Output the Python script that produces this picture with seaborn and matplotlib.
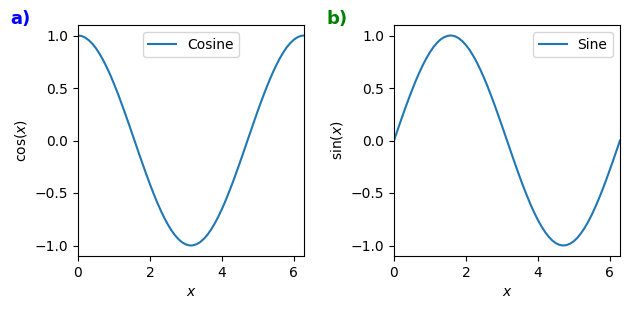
import matplotlib
matplotlib.use("Agg")
import matplotlib.pyplot as plt
import seaborn as sns
import pandas as pd

x_vals = [0.0, 0.1, 0.2, 0.3, 0.4, 0.5, 0.6, 0.7, 0.8, 0.9, 1.0, 1.1, 1.2, 1.3, 1.4, 1.5,
          1.571, 1.6, 1.7, 1.8, 1.9, 2.0, 2.1, 2.2, 2.3, 2.4, 2.5, 2.6, 2.7, 2.8, 2.9,
          3.0, 3.1, 3.142, 3.2, 3.3, 3.4, 3.5, 3.6, 3.7, 3.8, 3.9, 4.0, 4.1, 4.2, 4.3,
          4.4, 4.5, 4.6, 4.7, 4.712, 4.8, 4.9, 5.0, 5.1, 5.2, 5.3, 5.4, 5.5, 5.6, 5.7,
          5.8, 5.9, 6.0, 6.1, 6.2, 6.283]
cos_vals = [1.000, 0.995, 0.980, 0.955, 0.921, 0.878, 0.825, 0.765, 0.697, 0.622, 0.540,
            0.454, 0.362, 0.267, 0.170, 0.071, 0.000, -0.029, -0.129, -0.227, -0.323,
            -0.416, -0.505, -0.589, -0.666, -0.737, -0.801, -0.857, -0.904, -0.942,
            -0.971, -0.990, -0.999, -1.000, -0.998, -0.987, -0.967, -0.936, -0.897,
            -0.848, -0.791, -0.726, -0.654, -0.575, -0.490, -0.401, -0.307, -0.211,
            -0.112, -0.012, 0.000, 0.087, 0.187, 0.284, 0.378, 0.469, 0.554, 0.635,
            0.709, 0.776, 0.835, 0.886, 0.927, 0.960, 0.983, 0.997, 1.000]
sin_vals = [0.000, 0.100, 0.199, 0.296, 0.389, 0.479, 0.565, 0.644, 0.717, 0.783, 0.841,
            0.891, 0.932, 0.964, 0.985, 0.997, 1.000, 1.000, 0.992, 0.974, 0.946,
            0.909, 0.863, 0.808, 0.746, 0.675, 0.598, 0.516, 0.427, 0.335, 0.239,
            0.141, 0.042, 0.000, -0.058, -0.158, -0.256, -0.351, -0.443, -0.530,
            -0.612, -0.688, -0.757, -0.818, -0.872, -0.916, -0.952, -0.978, -0.994,
            -1.000, -1.000, -0.996, -0.982, -0.959, -0.926, -0.883, -0.832, -0.773,
            -0.706, -0.631, -0.551, -0.465, -0.374, -0.279, -0.182, -0.083, 0.000]

df = pd.DataFrame({"x": x_vals, "cos": cos_vals, "sin": sin_vals})

W, H = 630, 309
fig = plt.figure(figsize=(6.3, 3.09), dpi=100)
ax0 = fig.add_axes([78 / W, (H - 256) / H, 226 / W, 231 / H])
ax1 = fig.add_axes([394 / W, (H - 256) / H, 226 / W, 231 / H])
axes = [ax0, ax1]

sns.lineplot(data=df, x="x", y="cos", ax=ax0, label="Cosine", color="#1f77b4")
ax0.set_xlabel("$x$")
ax0.set_ylabel(r"$\cos(x)$")
ax0.legend(loc="upper center")

sns.lineplot(data=df, x="x", y="sin", ax=ax1, label="Sine", color="#1f77b4")
ax1.set_xlabel("$x$")
ax1.set_ylabel(r"$\sin(x)$")
ax1.legend(loc="upper right")

for ax in axes:
    ax.set_xlim(0, 6.283)
    ax.set_ylim(-1.1, 1.1)
    ax.set_xticks([0, 2, 4, 6])
    ax.set_yticks([-1.0, -0.5, 0.0, 0.5, 1.0])

fig.text(0.016, 0.94, "a)", color="blue", fontsize=13, fontweight="bold", va="center")
fig.text(0.518, 0.94, "b)", color="green", fontsize=13, fontweight="bold", va="center")
fig.savefig("out.png", dpi=100)
